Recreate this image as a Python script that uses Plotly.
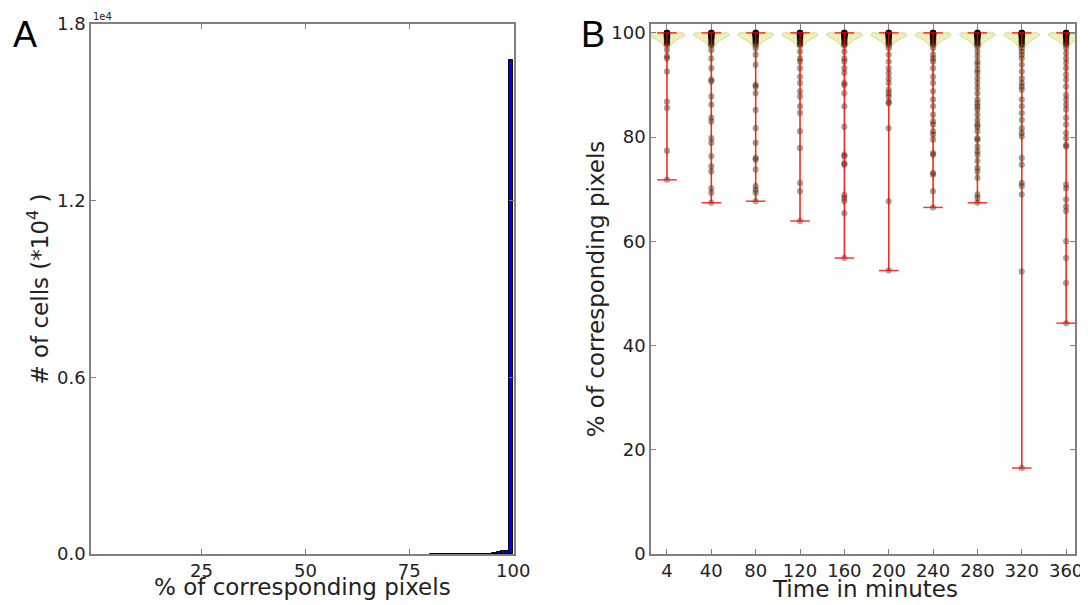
import plotly.graph_objects as go

# ---------------- Panel A data (histogram, bins of width 1) ----------------
bin_left = [80, 81, 82, 83, 84, 85, 86, 87, 88, 89, 90, 91, 92, 93, 94, 95, 96, 97, 98, 99]
bin_count = [0, 3, 0, 0, 0, 2, 4, 3, 5, 0, 0, 6, 8, 10, 15, 50, 70, 90, 110, 16770]
a_xticks = [25, 50, 75, 100]
a_yticks = [0, 6000, 12000, 18000]
a_yticklabels = ["0.0", "0.6", "1.2", "1.8"]

# ---------------- Panel B data ----------------
times = ["4", "40", "80", "120", "160", "200", "240", "280", "320", "360"]
# dense cluster of cells near 100 % seen at the top of every column
top_cluster = [100, 100, 100, 100, 100, 100, 99.9, 99.9, 99.9, 99.9, 99.8, 99.8, 99.8, 99.7, 99.7, 99.6,
               99.6, 99.5, 99.5, 99.4, 99.3, 99.2, 99.1, 99.0, 98.9, 98.7, 98.5, 98.3, 98.0, 97.7]
# individual lower points read for each time
o4 = [98.0, 96.7, 95.5, 95.1, 92.6, 86.8, 85.6, 77.4, 71.8]
o40 = [97.7, 96.7, 95.1, 93.2, 91.0, 90.7, 87.8, 86.2, 83.7, 83.0, 79.8, 78.9, 76.3, 74.4, 73.4, 70.2, 69.3, 67.4]
o80 = [98.3, 97.1, 95.8, 93.9, 90.0, 89.7, 88.4, 85.2, 81.7, 78.9, 76.0, 75.7, 73.8, 70.6, 69.9, 69.3, 67.7]
o120 = [97.7, 96.4, 95.1, 94.5, 93.2, 91.6, 90.4, 88.8, 87.8, 85.9, 84.6, 81.1, 77.9, 71.2, 69.6, 63.9]
o160 = [97.7, 96.4, 95.1, 94.5, 93.2, 92.3, 90.4, 90.0, 88.4, 85.9, 82.0, 76.6, 76.3, 75.0, 74.7, 68.9, 68.3,
        67.7, 65.4, 56.8]
o200 = [98.0, 97.1, 95.8, 94.5, 93.2, 92.3, 91.3, 90.4, 89.1, 88.4, 87.8, 86.8, 86.5, 81.7, 67.7, 54.4]
o240 = [98.0, 97.1, 95.8, 95.1, 94.5, 93.2, 91.6, 90.4, 88.8, 87.2, 85.9, 84.3, 83.0, 82.4, 81.1, 80.5, 79.5,
        76.9, 76.6, 73.1, 72.8, 69.6, 66.5]
o280 = [98.0, 97.4, 96.4, 95.5, 94.5, 93.9, 92.9, 92.3, 91.3, 90.4, 89.4, 88.4, 87.2, 86.5, 85.9, 85.3, 84.3,
        83.3, 82.4, 82.0, 81.1, 79.8, 79.5, 78.2, 77.3, 76.6, 75.4, 74.1, 73.4, 72.2, 69.0, 68.3, 67.4]
o320 = [98.3, 97.7, 97.1, 96.4, 95.8, 95.1, 93.9, 92.6, 91.3, 90.4, 89.7, 89.1, 87.2, 85.9, 84.6, 83.3, 81.7,
        80.8, 80.1, 76.0, 74.7, 71.2, 70.6, 69.0, 54.2, 16.5]
o360 = [98.0, 97.1, 96.1, 95.1, 94.2, 93.2, 92.0, 91.0, 89.7, 88.1, 87.2, 86.2, 85.3, 83.7, 82.4, 80.8, 79.8,
        78.5, 78.2, 70.9, 70.2, 68.0, 66.7, 65.8, 60.0, 56.8, 52.0, 44.3]
outliers = [o4, o40, o80, o120, o160, o200, o240, o280, o320, o360]
b_yticks = [0, 20, 40, 60, 80, 100]

FONT = "DejaVu Sans"
AXC = "#808080"
TXT = "#222222"

# page has an 8 px body margin; figure fills the rest of the window
W, H = 1080, 597
OFF = 8


def fx(px_page):
    return (px_page - OFF) / W


def fy(py_page):
    return 1 - (py_page - OFF) / H


b_series = [top_cluster + o for o in outliers]

fig = go.Figure()

# ---- Panel A histogram ----
fig.add_trace(go.Bar(
    x=[b + 0.5 for b in bin_left], y=bin_count, width=1,
    marker=dict(color="#0000ff", line=dict(color="#000000", width=1)),
    xaxis="x", yaxis="y", showlegend=False, hoverinfo="x+y"))

# ---- Panel B violins ----
for i, vals in enumerate(b_series):
    pos = i + 1
    fig.add_trace(go.Violin(
        x=[pos] * len(vals), y=vals, xaxis="x2", yaxis="y2",
        width=0.8, scalemode="width", bandwidth=0.65,
        spanmode="manual", span=[min(vals), max(vals)],
        fillcolor="rgba(228,228,120,0.55)",
        line=dict(color="rgba(150,150,70,0.6)", width=0.6),
        points=False, box=dict(visible=False), meanline=dict(visible=False),
        showlegend=False, hoverinfo="skip"))

# black scatter points
px, py = [], []
for i, vals in enumerate(b_series):
    px += [i + 1] * len(vals)
    py += vals
fig.add_trace(go.Scatter(x=px, y=py, mode="markers", xaxis="x2", yaxis="y2",
                         marker=dict(color="rgba(0,0,0,0.32)", size=6,
                                     line=dict(color="rgba(0,0,0,0.2)", width=0.5)),
                         showlegend=False, hoverinfo="y"))

# red extrema lines (vertical range + caps at min and max)
cap = 0.22
lx, ly = [], []
for i, vals in enumerate(b_series):
    pos = i + 1
    lo, hi = min(vals), max(vals)
    lx += [pos, pos, None, pos - cap, pos + cap, None, pos - cap, pos + cap, None]
    ly += [lo, hi, None, lo, lo, None, hi, hi, None]
fig.add_trace(go.Scatter(x=lx, y=ly, mode="lines", xaxis="x2", yaxis="y2",
                         line=dict(color="rgba(255,0,0,0.8)", width=1.5),
                         showlegend=False, hoverinfo="skip"))

axis_common = dict(showline=True, linecolor=AXC, linewidth=1.5, mirror="ticks",
                   ticks="inside", ticklen=5, tickcolor=AXC, tickwidth=1,
                   showgrid=False, zeroline=False, automargin=False,
                   tickfont=dict(family=FONT, size=18, color=TXT))
title_font = dict(family=FONT, size=23, color=TXT)

Y0, Y1 = fy(554), fy(24)

fig.update_layout(
    width=W, height=H,
    margin=dict(l=0, r=0, t=0, b=0, autoexpand=False),
    paper_bgcolor="white", plot_bgcolor="white",
    bargap=0,
    font=dict(family=FONT, color=TXT),
    xaxis=dict(domain=[fx(91), fx(514)], range=[-1.6, 100.2], tickvals=a_xticks,
               anchor="y", **axis_common),
    yaxis=dict(domain=[Y0, Y1], range=[0, 18000], tickvals=a_yticks, ticktext=a_yticklabels,
               title=dict(text="# of cells (*10<sup>4</sup> )", font=title_font, standoff=2),
               anchor="x", **axis_common),
    xaxis2=dict(domain=[fx(651), fx(1075)], range=[0.64, 10.2], tickvals=list(range(1, 11)), ticktext=times,
                anchor="y2", **axis_common),
    yaxis2=dict(domain=[Y0, Y1], range=[0, 101.7], tickvals=b_yticks,
                title=dict(text="% of corresponding pixels", font=title_font, standoff=0),
                anchor="x2", **axis_common),
    annotations=[
        dict(text="% of corresponding pixels", x=fx(302), y=fy(587), xref="paper", yref="paper",
             xanchor="center", yanchor="middle", showarrow=False, font=title_font),
        dict(text="Time in minutes", x=fx(865), y=fy(589), xref="paper", yref="paper",
             xanchor="center", yanchor="middle", showarrow=False, font=title_font),
        dict(text="1e4", x=fx(91), y=Y1, xref="paper", yref="paper", xanchor="left", yanchor="bottom",
             showarrow=False, font=dict(family=FONT, size=10, color=TXT)),
        dict(text="A", x=fx(25), y=fy(35), xref="paper", yref="paper", xanchor="center", yanchor="middle",
             showarrow=False, font=dict(family="Liberation Sans", size=36, color="#000")),
        dict(text="B", x=fx(593), y=fy(35), xref="paper", yref="paper", xanchor="center", yanchor="middle",
             showarrow=False, font=dict(family="Liberation Sans", size=36, color="#000")),
    ],
)

fig.write_html("out.html")
